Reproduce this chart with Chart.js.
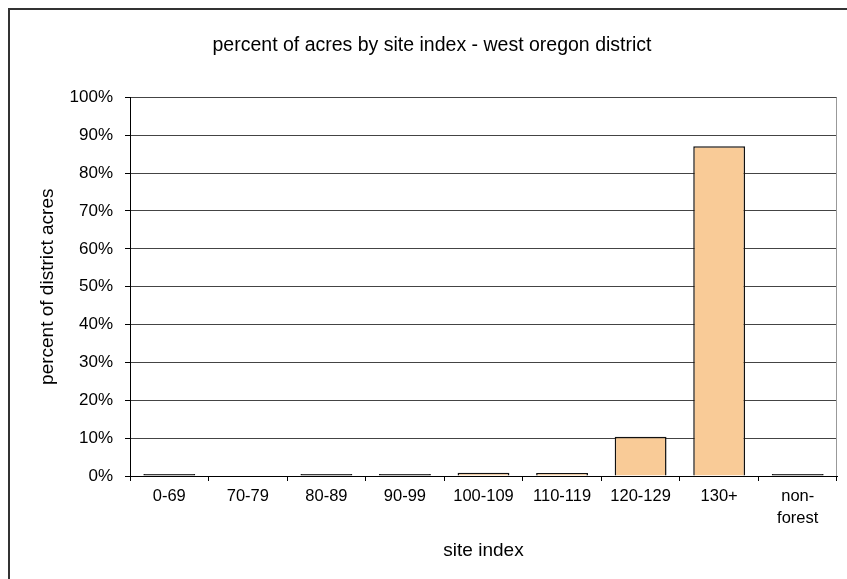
<!DOCTYPE html>
<html>
<head>
<meta charset="utf-8">
<title>percent of acres by site index</title>
<script src="https://cdn.jsdelivr.net/npm/chart.js@4/dist/chart.umd.min.js"></script>
<style>
  html, body { margin: 0; padding: 0; background: #fff; overflow: hidden; }
  #frame { position: absolute; left: 8px; top: 8px; width: 1000px; height: 1000px; border: 2px solid #333; }
  #wrap { position: absolute; left: 0; top: 0; width: 847px; height: 579px; }
</style>
</head>
<body>
<div id="frame"></div>
<div id="wrap"><canvas id="siteChart"></canvas></div>
<script>
// ============================================
// DATA
// ============================================
const categories = ['0-69', '70-79', '80-89', '90-99', '100-109', '110-119', '120-129', '130+', ['non-', 'forest']];
const percentAcres = [0.5, 0, 0.5, 0.5, 0.85, 0.8, 10.4, 87.1, 0.5];
const yTicks = [0, 10, 20, 30, 40, 50, 60, 70, 80, 90, 100];

const FONT = '"Liberation Sans", Arial, sans-serif';
const BAR_FILL = '#F9CB97';
const BAR_EDGE = '#111';

// right edge of the plot area (thin gray line)
const plotEdge = {
  id: 'plotEdge',
  afterDatasetsDraw(chart) {
    const { ctx, chartArea } = chart;
    ctx.save();
    ctx.strokeStyle = '#999';
    ctx.lineWidth = 1;
    ctx.beginPath();
    ctx.moveTo(Math.round(chartArea.right) - 0.5, chartArea.top);
    ctx.lineTo(Math.round(chartArea.right) - 0.5, chartArea.bottom);
    ctx.stroke();
    ctx.restore();
  }
};

// ============================================
// CHART
// ============================================
const ctx = document.getElementById('siteChart');
new Chart(ctx, {
  type: 'bar',
  data: {
    labels: categories,
    datasets: [{
      label: 'percent of district acres',
      data: percentAcres,
      // very thin bars are all border in the original
      backgroundColor: c => (c.raw < 0.6 ? BAR_EDGE : BAR_FILL),
      borderColor: BAR_EDGE,
      borderWidth: 1.5,
      barPercentage: 0.66,
      categoryPercentage: 1
    }]
  },
  options: {
    responsive: true,
    maintainAspectRatio: false,
    animation: false,
    layout: { padding: { left: 27, right: 10, top: 0, bottom: 0 } },
    plugins: {
      legend: { display: false },
      tooltip: { enabled: false },
      title: {
        display: true,
        text: 'percent of acres by site index - west oregon district',
        color: '#000',
        font: { family: FONT, size: 19.5, weight: 'normal' },
        padding: { top: 34, bottom: 40 }
      }
    },
    scales: {
      x: {
        grid: {
          offset: true,
          drawOnChartArea: false,
          tickColor: '#000',
          tickLength: 5
        },
        border: { display: true, color: '#000', width: 1 },
        ticks: {
          color: '#000',
          font: { family: FONT, size: 16.5, lineHeight: 1.3 },
          padding: 5,
          maxRotation: 0,
          autoSkip: false
        },
        title: {
          display: true,
          text: 'site index',
          color: '#000',
          font: { family: FONT, size: 19 },
          padding: { top: 17, bottom: 17 }
        },
        afterFit: s => { s.height = 103; }
      },
      y: {
        min: 0,
        max: 100,
        afterBuildTicks: s => { s.ticks = yTicks.map(v => ({ value: v })); },
        grid: { color: '#444', tickColor: '#000', tickLength: 5, lineWidth: 1 },
        border: { display: true, color: '#000', width: 1 },
        ticks: {
          color: '#000',
          font: { family: FONT, size: 17 },
          padding: 12,
          callback: v => v + '%'
        },
        title: {
          display: true,
          text: 'percent of district acres',
          color: '#000',
          font: { family: FONT, size: 19 },
          padding: { top: 9, bottom: 9 }
        },
        afterFit: s => { s.width = 103; }
      }
    }
  },
  plugins: [plotEdge]
});
</script>
</body>
</html>
